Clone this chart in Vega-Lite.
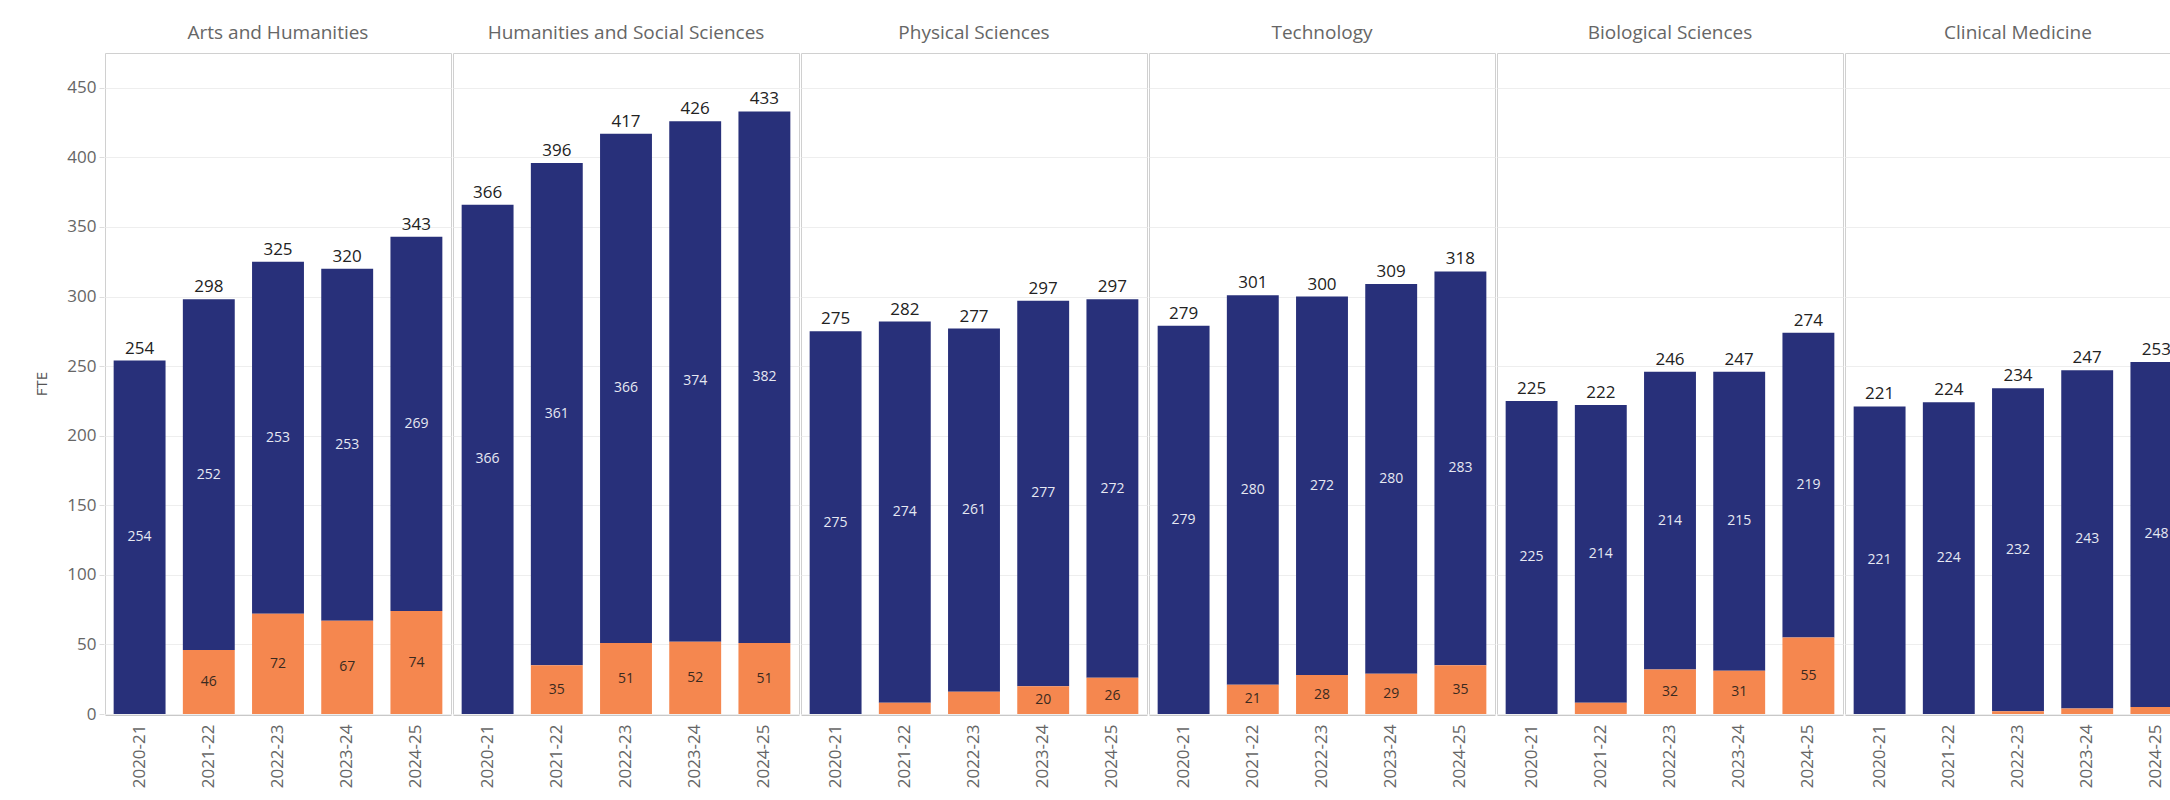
{
  "$schema": "https://vega.github.io/schema/vega-lite/v6.json",
  "padding": {"left": 34, "top": 24, "right": 0, "bottom": 0},
  "background": "white",
  "data": {"values": [
    {"faculty": "Arts and Humanities", "year": "2020-21", "type": "main", "value": 254, "total": 254},
    {"faculty": "Arts and Humanities", "year": "2020-21", "type": "add", "value": 0, "total": 254},
    {"faculty": "Arts and Humanities", "year": "2021-22", "type": "main", "value": 252, "total": 298},
    {"faculty": "Arts and Humanities", "year": "2021-22", "type": "add", "value": 46, "total": 298},
    {"faculty": "Arts and Humanities", "year": "2022-23", "type": "main", "value": 253, "total": 325},
    {"faculty": "Arts and Humanities", "year": "2022-23", "type": "add", "value": 72, "total": 325},
    {"faculty": "Arts and Humanities", "year": "2023-24", "type": "main", "value": 253, "total": 320},
    {"faculty": "Arts and Humanities", "year": "2023-24", "type": "add", "value": 67, "total": 320},
    {"faculty": "Arts and Humanities", "year": "2024-25", "type": "main", "value": 269, "total": 343},
    {"faculty": "Arts and Humanities", "year": "2024-25", "type": "add", "value": 74, "total": 343},
    {"faculty": "Humanities and Social Sciences", "year": "2020-21", "type": "main", "value": 366, "total": 366},
    {"faculty": "Humanities and Social Sciences", "year": "2020-21", "type": "add", "value": 0, "total": 366},
    {"faculty": "Humanities and Social Sciences", "year": "2021-22", "type": "main", "value": 361, "total": 396},
    {"faculty": "Humanities and Social Sciences", "year": "2021-22", "type": "add", "value": 35, "total": 396},
    {"faculty": "Humanities and Social Sciences", "year": "2022-23", "type": "main", "value": 366, "total": 417},
    {"faculty": "Humanities and Social Sciences", "year": "2022-23", "type": "add", "value": 51, "total": 417},
    {"faculty": "Humanities and Social Sciences", "year": "2023-24", "type": "main", "value": 374, "total": 426},
    {"faculty": "Humanities and Social Sciences", "year": "2023-24", "type": "add", "value": 52, "total": 426},
    {"faculty": "Humanities and Social Sciences", "year": "2024-25", "type": "main", "value": 382, "total": 433},
    {"faculty": "Humanities and Social Sciences", "year": "2024-25", "type": "add", "value": 51, "total": 433},
    {"faculty": "Physical Sciences", "year": "2020-21", "type": "main", "value": 275, "total": 275},
    {"faculty": "Physical Sciences", "year": "2020-21", "type": "add", "value": 0, "total": 275},
    {"faculty": "Physical Sciences", "year": "2021-22", "type": "main", "value": 274, "total": 282},
    {"faculty": "Physical Sciences", "year": "2021-22", "type": "add", "value": 8, "total": 282},
    {"faculty": "Physical Sciences", "year": "2022-23", "type": "main", "value": 261, "total": 277},
    {"faculty": "Physical Sciences", "year": "2022-23", "type": "add", "value": 16, "total": 277},
    {"faculty": "Physical Sciences", "year": "2023-24", "type": "main", "value": 277, "total": 297},
    {"faculty": "Physical Sciences", "year": "2023-24", "type": "add", "value": 20, "total": 297},
    {"faculty": "Physical Sciences", "year": "2024-25", "type": "main", "value": 272, "total": 297},
    {"faculty": "Physical Sciences", "year": "2024-25", "type": "add", "value": 26, "total": 297},
    {"faculty": "Technology", "year": "2020-21", "type": "main", "value": 279, "total": 279},
    {"faculty": "Technology", "year": "2020-21", "type": "add", "value": 0, "total": 279},
    {"faculty": "Technology", "year": "2021-22", "type": "main", "value": 280, "total": 301},
    {"faculty": "Technology", "year": "2021-22", "type": "add", "value": 21, "total": 301},
    {"faculty": "Technology", "year": "2022-23", "type": "main", "value": 272, "total": 300},
    {"faculty": "Technology", "year": "2022-23", "type": "add", "value": 28, "total": 300},
    {"faculty": "Technology", "year": "2023-24", "type": "main", "value": 280, "total": 309},
    {"faculty": "Technology", "year": "2023-24", "type": "add", "value": 29, "total": 309},
    {"faculty": "Technology", "year": "2024-25", "type": "main", "value": 283, "total": 318},
    {"faculty": "Technology", "year": "2024-25", "type": "add", "value": 35, "total": 318},
    {"faculty": "Biological Sciences", "year": "2020-21", "type": "main", "value": 225, "total": 225},
    {"faculty": "Biological Sciences", "year": "2020-21", "type": "add", "value": 0, "total": 225},
    {"faculty": "Biological Sciences", "year": "2021-22", "type": "main", "value": 214, "total": 222},
    {"faculty": "Biological Sciences", "year": "2021-22", "type": "add", "value": 8, "total": 222},
    {"faculty": "Biological Sciences", "year": "2022-23", "type": "main", "value": 214, "total": 246},
    {"faculty": "Biological Sciences", "year": "2022-23", "type": "add", "value": 32, "total": 246},
    {"faculty": "Biological Sciences", "year": "2023-24", "type": "main", "value": 215, "total": 247},
    {"faculty": "Biological Sciences", "year": "2023-24", "type": "add", "value": 31, "total": 247},
    {"faculty": "Biological Sciences", "year": "2024-25", "type": "main", "value": 219, "total": 274},
    {"faculty": "Biological Sciences", "year": "2024-25", "type": "add", "value": 55, "total": 274},
    {"faculty": "Clinical Medicine", "year": "2020-21", "type": "main", "value": 221, "total": 221},
    {"faculty": "Clinical Medicine", "year": "2020-21", "type": "add", "value": 0, "total": 221},
    {"faculty": "Clinical Medicine", "year": "2021-22", "type": "main", "value": 224, "total": 224},
    {"faculty": "Clinical Medicine", "year": "2021-22", "type": "add", "value": 0, "total": 224},
    {"faculty": "Clinical Medicine", "year": "2022-23", "type": "main", "value": 232, "total": 234},
    {"faculty": "Clinical Medicine", "year": "2022-23", "type": "add", "value": 2, "total": 234},
    {"faculty": "Clinical Medicine", "year": "2023-24", "type": "main", "value": 243, "total": 247},
    {"faculty": "Clinical Medicine", "year": "2023-24", "type": "add", "value": 4, "total": 247},
    {"faculty": "Clinical Medicine", "year": "2024-25", "type": "main", "value": 248, "total": 253},
    {"faculty": "Clinical Medicine", "year": "2024-25", "type": "add", "value": 5, "total": 253}
  ]},
  "transform": [
    {"calculate": "datum.type === 'add' ? 0 : 1", "as": "ord"},
    {"stack": "value", "groupby": ["faculty", "year"], "sort": [{"field": "ord", "order": "ascending"}], "as": ["v0", "v1"]},
    {"calculate": "(datum.v0 + datum.v1) / 2", "as": "mid"}
  ],
  "facet": {
    "column": {
      "field": "faculty",
      "type": "nominal",
      "sort": ["Arts and Humanities", "Humanities and Social Sciences", "Physical Sciences", "Technology", "Biological Sciences", "Clinical Medicine"],
      "title": null,
      "header": {"labelFontSize": 19, "labelColor": "#666666", "labelFont": "Open Sans", "labelPadding": 9}
    }
  },
  "spacing": 0,
  "spec": {
    "width": 346,
    "height": 661,
    "encoding": {
      "x": {
        "field": "year", "type": "ordinal", "title": null,
        "scale": {"paddingInner": 0.25, "paddingOuter": 0.125},
        "axis": {"grid": false, "labelAngle": -90, "labelFontSize": 17, "labelColor": "#666666", "labelFont": "Open Sans", "ticks": false, "labelPadding": 9, "domainColor": "#c8c8c8"}
      }
    },
    "layer": [
      {
        "mark": {"type": "bar"},
        "encoding": {
          "y": {"field": "v0", "type": "quantitative", "title": "FTE",
            "scale": {"domain": [0, 475], "nice": false},
            "axis": {"values": [0, 50, 100, 150, 200, 250, 300, 350, 400, 450], "labelFontSize": 17, "labelColor": "#666666", "labelFont": "Open Sans", "labelPadding": 3, "titleFont": "Open Sans", "titleFontSize": 15, "titleFontWeight": "normal", "titleColor": "#555555", "titlePadding": 17, "tickColor": "#dddddd", "tickSize": 5, "domain": false, "grid": true, "gridColor": "#eeeeee"}},
          "y2": {"field": "v1"},
          "color": {"field": "type", "type": "nominal", "legend": null,
            "scale": {"domain": ["main", "add"], "range": ["#28307a", "#f5874f"]}}
        }
      },
      {
        "transform": [{"filter": "datum.type === 'main'"}],
        "mark": {"type": "text", "fontSize": 14, "font": "Open Sans", "color": "#e6e8f2"},
        "encoding": {
          "y": {"field": "mid", "type": "quantitative"},
          "text": {"field": "value", "type": "quantitative"}
        }
      },
      {
        "transform": [{"filter": "datum.type === 'add' && datum.value >= 20"}],
        "mark": {"type": "text", "fontSize": 14, "font": "Open Sans", "color": "#3a2a20"},
        "encoding": {
          "y": {"field": "mid", "type": "quantitative"},
          "text": {"field": "value", "type": "quantitative"}
        }
      },
      {
        "transform": [{"filter": "datum.type === 'main'"}],
        "mark": {"type": "text", "fontSize": 17, "font": "Open Sans", "color": "#222222", "dy": -12},
        "encoding": {
          "y": {"field": "v1", "type": "quantitative"},
          "text": {"field": "total", "type": "quantitative"}
        }
      }
    ]
  },
  "config": {
    "view": {"stroke": "#d0d0d0"}
  }
}
